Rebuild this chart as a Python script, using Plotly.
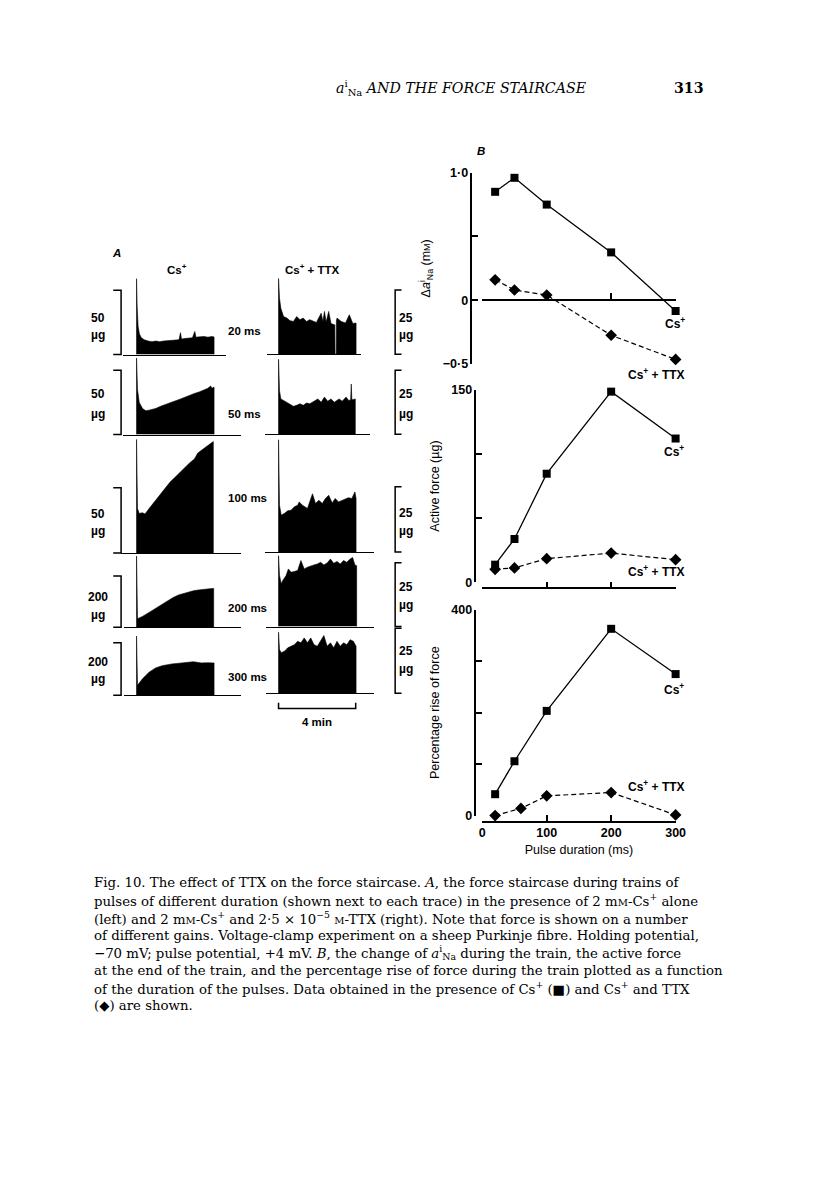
import plotly.graph_objects as go

# ---------------- data: panel B ----------------
pulse_ms = [20, 50, 100, 200, 300]
dna_cs = [0.85, 0.96, 0.75, 0.375, -0.085]
dna_ttx = [0.16, 0.08, 0.04, -0.275, -0.465]
force_cs = [13.8, 33.8, 84.6, 148.5, 112.0]
force_cs_extra_ms = [200]
force_cs_extra = [154.4]
force_ttx = [10.2, 11.3, 18.5, 22.8, 17.7]
rise_cs = [41.6, 105.6, 203.5, 363.0, 275.0]
rise_ttx_ms = [20, 60, 100, 200, 300]
rise_ttx = [0.0, 14.0, 38.4, 44.8, 1.3]
pulse_ticks = [0, 100, 200, 300]

# ---------------- data: panel A (time in min, force in ug) ----------------
cs_20_t = [0, 0, 0.03, 0.08, 0.15, 0.25, 0.4, 0.6, 0.8, 1.0, 1.2, 1.4, 1.6, 1.8, 2.0, 2.2, 2.28, 2.33, 2.5, 2.7,
           2.9, 3.02, 3.08, 3.3, 3.5, 3.7, 3.9, 4.02, 4.02]
cs_20_f = [0, 59, 38, 22, 16, 13, 11.5, 10.5, 10, 10.5, 10, 10.5, 10.8, 11, 11.2, 11.5, 17, 12, 12.5, 12.8,
           13, 18, 13.5, 13.8, 14, 13.5, 14, 13.7, 0]
cs_50_t = [0, 0, 0.05, 0.14, 0.31, 0.48, 0.65, 0.99, 1.25, 1.5, 1.75, 2.0, 2.25, 2.5, 2.75, 3.0, 3.25, 3.5, 3.7,
           3.84, 3.92, 4.02, 4.02]
cs_50_f = [0, 59.5, 35, 25, 20.3, 18.5, 19, 20.3, 22, 23.6, 25, 26.2, 27.5, 29.2, 30.5, 32, 33.2, 34.6, 36,
           37.8, 36, 37, 0]
cs_100_t = [0, 0, 0.05, 0.14, 0.31, 0.44, 0.65, 0.99, 1.25, 1.5, 1.75, 2.0, 2.25, 2.5, 2.75, 3.0, 3.17, 3.33,
            3.5, 3.67, 3.85, 3.98, 3.98]
cs_100_f = [0, 87, 34, 30.3, 30.8, 29.8, 34, 40.4, 45.5, 50.5, 54.5, 58.1, 62, 65.7, 69, 72, 76.5, 78.3,
            80, 82, 84, 85.4, 0]
cs_200_t = [0, 0, 0.05, 0.31, 0.65, 0.9, 1.16, 1.4, 1.67, 1.9, 2.18, 2.45, 2.69, 2.95, 3.2, 3.54, 3.8, 4.0, 4.0]
cs_200_f = [0, 277, 33.5, 42.3, 57.7, 69, 80.8, 93, 106.5, 116, 125.8, 132, 138.5, 142, 145, 148.8, 150, 151, 0]
cs_300_t = [0, 0, 0.05, 0.31, 0.65, 0.99, 1.33, 1.6, 1.84, 2.1, 2.35, 2.65, 2.95, 3.2, 3.37, 3.7, 4.02, 4.02]
cs_300_f = [0, 226, 37.7, 63, 88, 104.5, 113, 117, 119.6, 121.5, 123.4, 125, 128, 125, 123.4, 124, 123.4, 0]

ttx_20_t = [0, 0, 0.05, 0.12, 0.26, 0.43, 0.6, 0.77, 0.94, 1.11, 1.28, 1.45, 1.62, 1.79, 1.96, 2.21, 2.3, 2.38,
            2.47, 2.6, 2.72, 2.89, 2.92, 2.93, 2.99, 3.0, 3.03, 3.25, 3.47, 3.67, 3.85, 4.02, 4.02]
ttx_20_f = [0, 29.5, 21.8, 17.9, 14.7, 14.1, 13.1, 12.8, 14.7, 13.5, 14.1, 12.8, 13.5, 12.8, 12.4, 16, 12.8, 16.7,
            12.6, 16.7, 12, 11.5, 11.5, 0, 0, 13, 14.1, 12.8, 12.2, 15.4, 12, 12.2, 0]
ttx_50_t = [0, 0, 0.05, 0.12, 0.26, 0.43, 0.6, 0.77, 0.94, 1.11, 1.28, 1.45, 1.62, 1.87, 2.04, 2.21, 2.38, 2.55,
            2.72, 2.89, 3.14, 3.3, 3.5, 3.64, 3.74, 3.77, 3.8, 3.86, 3.98, 3.98]
ttx_50_f = [0, 29.2, 17, 13.8, 13.2, 12.5, 11.9, 10.9, 11.3, 11.9, 11.3, 12.2, 11.9, 13.2, 13.8, 12.5, 14.5, 12.9,
            13.8, 12.5, 13.8, 12.9, 14.5, 13.2, 13.4, 19.6, 13.6, 13.5, 13.8, 0]
ttx_100_t = [0, 0, 0.05, 0.14, 0.31, 0.48, 0.65, 0.82, 0.99, 1.07, 1.24, 1.5, 1.76, 1.92, 2.09, 2.27, 2.43, 2.6,
             2.78, 2.94, 3.11, 3.29, 3.45, 3.62, 3.8, 3.96, 4.02, 4.02]
ttx_100_f = [0, 43, 17.9, 14.1, 14.8, 15.8, 16, 17.3, 17.9, 19.2, 17.9, 16.7, 22.3, 18.6, 19.8, 18.6, 20.5, 21.7,
             18.8, 20.5, 19.2, 19.8, 20.1, 20.8, 20.5, 23, 20.5, 0]
ttx_200_t = [0, 0, 0.05, 0.14, 0.22, 0.39, 0.51, 0.65, 0.82, 0.99, 1.16, 1.33, 1.5, 1.67, 1.84, 2.01, 2.18, 2.35,
             2.52, 2.69, 2.86, 3.03, 3.2, 3.37, 3.54, 3.71, 3.84, 3.96, 4.05, 4.05]
ttx_200_f = [0, 27.8, 20, 16.8, 18.1, 20, 22.6, 21.3, 21.6, 22, 25.9, 22.6, 23.3, 23.9, 24.2, 24.5, 25.2, 24.2,
             24.9, 26.5, 24.8, 25.5, 24.5, 25.9, 25.2, 26.5, 27.1, 24.2, 23.9, 0]
ttx_300_t = [0, 0, 0.05, 0.14, 0.31, 0.48, 0.65, 0.82, 0.99, 1.16, 1.33, 1.5, 1.67, 1.84, 2.01, 2.18, 2.35, 2.52,
             2.69, 2.86, 3.03, 3.2, 3.37, 3.54, 3.71, 3.88, 4.02, 4.02]
ttx_300_f = [0, 23.5, 16.8, 15.6, 16.2, 17.5, 18.1, 18.7, 20, 19.4, 21.3, 19.4, 21.3, 18.7, 18.1, 20, 22.2, 18.1,
             19.4, 17.5, 20, 18.1, 19.4, 18.7, 20.6, 20, 18.1, 0]

duration_labels = ['20 ms', '50 ms', '100 ms', '200 ms', '300 ms']
left_gain = [50, 50, 50, 200, 200]
right_gain = [25, 25, 25, 25, 25]
time_bar_min = 4

caption_lines = [
    "Fig. 10. The effect of TTX on the force staircase. <i>A</i>, the force staircase during trains of",
    "pulses of different duration (shown next to each trace) in the presence of 2 m<span style='font-size:10px'>M</span>-Cs<sup>+</sup> alone",
    "(left) and 2 m<span style='font-size:10px'>M</span>-Cs<sup>+</sup> and 2·5 × 10<sup>−5</sup> <span style='font-size:10px'>M</span>-TTX (right). Note that force is shown on a number",
    "of different gains. Voltage-clamp experiment on a sheep Purkinje fibre. Holding potential,",
    "−70 mV; pulse potential, +4 mV. <i>B</i>, the change of <i>a</i><sup>i</sup><sub>Na</sub> during the train, the active force",
    "at the end of the train, and the percentage rise of force during the train plotted as a function",
    "of the duration of the pulses. Data obtained in the presence of Cs<sup>+</sup> (■) and Cs<sup>+</sup> and TTX",
    "(◆) are shown.",
]

# ---------------- geometry (pixels) ----------------
W, H = 816, 1181
SANS = "Liberation Sans, Arial, sans-serif"
SERIF = "DejaVu Serif, serif"


def px(x):
    return x / W


def py(y):
    return 1 - y / H


fig = go.Figure()
ann = []
shapes = []

# ---------- panel B ----------
XB0, XB1 = 487.0, 683.5
tick_style = dict(ticks='inside', ticklen=6, tickwidth=1.5, tickcolor='black')
axis_common = dict(showline=True, linecolor='black', linewidth=1.5, showgrid=False, zeroline=False,
                   tickfont=dict(family=SANS, size=12.5, color='black', weight='bold'), **tick_style)
title_font = dict(family=SANS, size=12.5, color='black')

panels = [
    # (y_bottom_px, y_top_px, range, major ticks, major labels, minor ticks, title, y_axis_x_px, x_axis_y_px, labels)
    (361.2, 167.7, [-0.5, 1.0], [-0.5, 0, 1.0], ['−0·5', '0', '1·0'], [0.5],
     "Δ<i>a</i><sup>i</sup><sub>Na</sub> (m<span style='font-size:9px'>M</span>)", 476.0, None, False),
    (582.3, 387.3, [0, 150], [0, 150], ['0', '150'], [50, 100], 'Active force (µg)', 480.0, 588.3, False),
    (818.3, 610.0, [0, 400], [0, 400], ['0', '400'], [100, 200, 300], 'Percentage rise of force',
     480.0, 824.3, True),
]
for i, (yb, yt, rng, tv, tt, mv, title, yax_x, xax_y, lab) in enumerate(panels):
    sfx = '' if i == 0 else str(i + 1)
    if xax_y is None:
        frac = (0 - rng[0]) / (rng[1] - rng[0])
        pos = py(yb) + frac * (py(yt) - py(yb))
    else:
        pos = py(xax_y)
    xa = dict(axis_common, domain=[px(XB0), px(XB1)], range=[0, 300], anchor='free', position=pos,
              tickvals=pulse_ticks, showticklabels=lab)
    if lab:
        xa['title'] = dict(text='Pulse duration (ms)', font=dict(family=SANS, size=12.5, color='black'),
                           standoff=5)
    ya = dict(axis_common, domain=[py(yb), py(yt)], range=rng, anchor='free', position=px(yax_x),
              tickvals=tv, ticktext=tt, minor=dict(tickmode='array', tickvals=mv, **tick_style),
              title=dict(text=title, font=title_font, standoff=8))
    fig.update_layout({'xaxis' + sfx: xa, 'yaxis' + sfx: ya})

sq = dict(symbol='square', size=8, color='black')
dm = dict(symbol='diamond', size=9, color='black')
solid = dict(color='black', width=1.3)
dashed = dict(color='black', width=1.2, dash='5px,3px')

fig.add_trace(go.Scatter(x=pulse_ms, y=dna_cs, mode='lines+markers', marker=sq, line=solid,
                         cliponaxis=False, xaxis='x', yaxis='y'))
fig.add_trace(go.Scatter(x=pulse_ms, y=dna_ttx, mode='lines+markers', marker=dm, line=dashed,
                         cliponaxis=False, xaxis='x', yaxis='y'))
fig.add_trace(go.Scatter(x=pulse_ms, y=force_cs, mode='lines+markers', marker=sq, line=solid,
                         cliponaxis=False, xaxis='x2', yaxis='y2'))
fig.add_trace(go.Scatter(x=force_cs_extra_ms, y=force_cs_extra, mode='markers', marker=sq,
                         cliponaxis=False, xaxis='x2', yaxis='y2'))
fig.add_trace(go.Scatter(x=pulse_ms, y=force_ttx, mode='lines+markers', marker=dm, line=dashed,
                         cliponaxis=False, xaxis='x2', yaxis='y2'))
fig.add_trace(go.Scatter(x=pulse_ms, y=rise_cs, mode='lines+markers', marker=sq, line=solid,
                         cliponaxis=False, xaxis='x3', yaxis='y3'))
fig.add_trace(go.Scatter(x=rise_ttx_ms, y=rise_ttx, mode='lines+markers', marker=dm, line=dashed,
                         cliponaxis=False, xaxis='x3', yaxis='y3'))

CS = 'Cs<sup>+</sup>'
CST = 'Cs<sup>+</sup> + TTX'
lab_font = dict(family=SANS, size=12, color='black', weight='bold')
for (xr, yr, x, y, t) in [('x', 'y', 299, -0.18, CS),
                          ('x2', 'y2', 297, 102, CS), ('x2', 'y2', 271, 8.5, CST),
                          ('x3', 'y3', 297, 246, CS), ('x3', 'y3', 271, 57, CST)]:
    ann.append(dict(x=x, y=y, xref=xr, yref=yr, text=t, showarrow=False, xanchor='center', yanchor='middle',
                    font=lab_font))

# ---------- panel A ----------
PPM = 19.6  # px per minute
left_onset, right_onset = 135.7, 280.0
left_base = [351.7, 432.7, 552.5, 627.7, 696.5]
right_base = [351.5, 432.5, 551.5, 627.0, 694.5]
row_top = [266, 350, 432, 552, 627]
left_scale = [1.3, 1.3, 1.32, 0.26, 0.265]
right_scale = [2.6, 2.6, 2.64, 2.58, 2.63]
left_span = [(121.7, 226.7), (121.7, 241.7), (120.0, 241.7), (122.7, 241.7), (122.7, 241.7)]
right_span = [(268.3, 363.3), (266.7, 373.0), (266.7, 376.7), (267.7, 376.7), (267.7, 376.7)]

left_traces = [(cs_20_t, cs_20_f), (cs_50_t, cs_50_f), (cs_100_t, cs_100_f), (cs_200_t, cs_200_f),
               (cs_300_t, cs_300_f)]
right_traces = [(ttx_20_t, ttx_20_f), (ttx_50_t, ttx_50_f), (ttx_100_t, ttx_100_f), (ttx_200_t, ttx_200_f),
                (ttx_300_t, ttx_300_f)]

n = 4
for side in range(2):
    for r in range(5):
        if side == 0:
            onset, base, scale, (x0, x1), (t, f) = left_onset, left_base[r], left_scale[r], left_span[r], left_traces[r]
        else:
            onset, base, scale, (x0, x1), (t, f) = right_onset, right_base[r], right_scale[r], right_span[r], right_traces[r]
        top = row_top[r]
        fig.update_layout({
            f'xaxis{n}': dict(domain=[px(x0), px(x1)], range=[(x0 - onset) / PPM, (x1 - onset) / PPM],
                              anchor=f'y{n}', showline=True, linecolor='black', linewidth=1.3,
                              showticklabels=False, ticks='', showgrid=False, zeroline=False),
            f'yaxis{n}': dict(domain=[py(base), py(top)], range=[0, (base - top) / scale], visible=False,
                              anchor=f'x{n}'),
        })
        fig.add_trace(go.Scatter(x=t, y=f, mode='lines', line=dict(color='black', width=0.6),
                                 fill='tozeroy', fillcolor='black', xaxis=f'x{n}', yaxis=f'y{n}',
                                 hoverinfo='skip'))
        if side == 0:
            gtop = base - left_gain[r] * scale
            shapes.append(dict(type='path', xref='paper', yref='paper',
                               path=f'M {px(112)},{py(base)} L {px(120)},{py(base)} L {px(120)},{py(gtop)} L {px(112)},{py(gtop)}',
                               line=dict(color='black', width=1.5)))
        else:
            gtop = base - right_gain[r] * scale
            shapes.append(dict(type='path', xref='paper', yref='paper',
                               path=f'M {px(405)},{py(base)} L {px(398.5)},{py(base)} L {px(398.5)},{py(gtop)} L {px(405)},{py(gtop)}',
                               line=dict(color='black', width=1.5)))
        n += 1

tb0 = right_onset
tb1 = right_onset + time_bar_min * PPM
shapes.append(dict(type='path', xref='paper', yref='paper',
                   path=f'M {px(tb0)},{py(704)} L {px(tb0)},{py(710)} L {px(tb1)},{py(710)} L {px(tb1)},{py(704)}',
                   line=dict(color='black', width=1.5)))


def txt(x, y, s, size=12, font=SANS, xanchor='center', yanchor='middle', weight='normal'):
    ann.append(dict(x=px(x), y=py(y), xref='paper', yref='paper', text=s, showarrow=False,
                    xanchor=xanchor, yanchor=yanchor,
                    font=dict(family=font, size=size, color='black', weight=weight)))


left_num_y = [315, 391.7, 513.3, 596.7, 663.3]
left_mu_y = [331.7, 411.7, 530, 615, 680]
right_num_y = [315, 391.7, 511.7, 586.7, 651.7]
right_mu_y = [331.7, 411.7, 530, 605, 670]
dur_y = [328.3, 411.7, 496.7, 608.3, 678.3]
for r in range(5):
    txt(97, left_num_y[r], str(left_gain[r]), size=12, weight='bold')
    txt(97, left_mu_y[r], 'µg', size=12, weight='bold')
    txt(400, right_num_y[r], str(right_gain[r]), xanchor='left', size=12, weight='bold')
    txt(400, right_mu_y[r], 'µg', xanchor='left', size=12, weight='bold')
    txt(227, dur_y[r], duration_labels[r], xanchor='left', size=11.5, weight='bold')

txt(664, 371, CST, size=12, weight='bold')  # TTX label below the top B panel
txt(115, 249, '<i>A</i>', size=11.5, weight='bold')
txt(176.7, 265, 'Cs<sup>+</sup>', size=11.5, weight='bold')
txt(315, 265, 'Cs<sup>+</sup> + TTX', size=11.5, weight='bold')
txt((tb0 + tb1) / 2, 723.5, f'{time_bar_min} min', size=11.5, weight='bold')
txt(486, 146, '<i>B</i>', size=11.5, weight='bold')

# header
txt(466, 82, '<i>a</i><sup>i</sup><sub>Na</sub><i> AND THE FORCE STAIRCASE</i>', size=14.2, font=SERIF)
txt(697, 82, '<b>313</b>', size=14.2, font=SERIF)

# caption
for i, line in enumerate(caption_lines):
    txt(90, 886 + 17.8 * i, line, size=13.3, font=SERIF, xanchor='left')

fig.update_layout(width=W, height=H, margin=dict(l=0, r=0, t=0, b=0), paper_bgcolor='white',
                  plot_bgcolor='rgba(0,0,0,0)', showlegend=False, annotations=ann, shapes=shapes)

fig.write_html("out.html", config={'displayModeBar': False},
               post_script="document.body.style.margin='0';")
